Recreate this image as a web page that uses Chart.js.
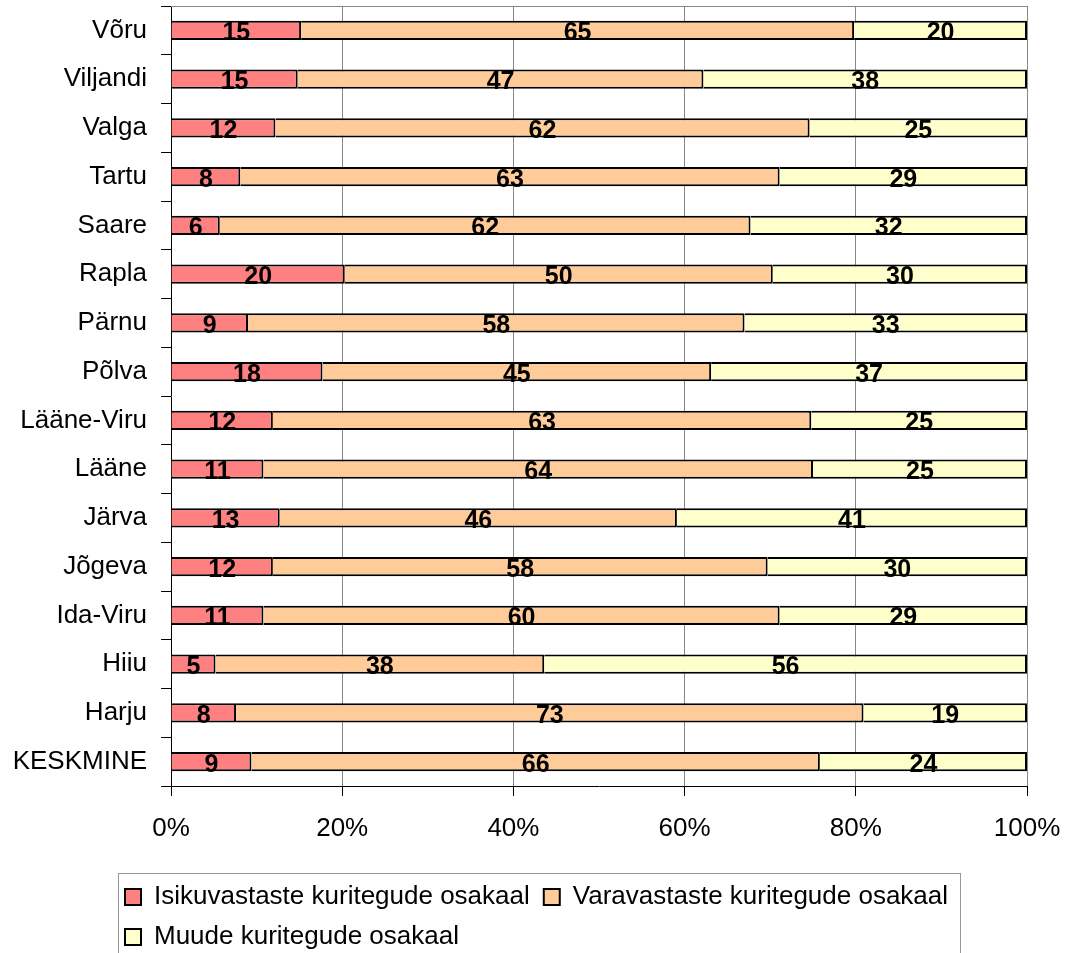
<!DOCTYPE html>
<html><head><meta charset="utf-8">
<script src="https://cdn.jsdelivr.net/npm/chart.js@4/dist/chart.umd.min.js"></script>
<style>html,body{margin:0;padding:0;background:#fff;}#wrap{width:1067px;height:953px;position:relative;}</style>
</head><body><div id="wrap"><canvas id="c" width="1067" height="953"></canvas></div>
<script>
const categories = ['Võru','Viljandi','Valga','Tartu','Saare','Rapla','Pärnu','Põlva','Lääne-Viru','Lääne','Järva','Jõgeva','Ida-Viru','Hiiu','Harju','KESKMINE'];
const isikuvastaste = [15.2,14.8,12.2,8.1,5.7,20.3,9.0,17.7,11.9,10.8,12.7,11.9,10.8,5.2,7.6,9.4];
const varavastaste = [64.6,47.4,62.4,63.0,62.0,50.0,58.0,45.4,62.9,64.2,46.4,57.8,60.3,38.4,73.3,66.4];
const muude = [20.2,37.8,25.4,28.9,32.3,29.7,33.0,36.9,25.2,25.0,40.9,30.3,28.9,56.4,19.1,24.2];
const seriesNames = ['Isikuvastaste kuritegude osakaal','Varavastaste kuritegude osakaal','Muude kuritegude osakaal'];
const xTicks = [0,20,40,60,80,100];

Chart.defaults.font.family = '"Liberation Sans", Arial, sans-serif';
Chart.defaults.color = '#000';

const layoutFix = {
  id: 'layoutFix',
  afterLayout(chart) {
    const lg = chart.legend;
    if (lg) { lg.left = 111; lg.top = 870; }
  }
};
const frame = {
  id: 'frame',
  beforeDatasetsDraw(chart) {
    const {ctx, chartArea: a} = chart;
    ctx.save();
    ctx.strokeStyle = '#888'; ctx.lineWidth = 1;
    ctx.beginPath(); ctx.moveTo(a.left, Math.round(a.top) + 0.5); ctx.lineTo(a.right, Math.round(a.top) + 0.5); ctx.stroke();
    ctx.restore();
  },
  afterDraw(chart) {
    const ctx = chart.ctx;
    ctx.save();
    ctx.strokeStyle = '#999'; ctx.lineWidth = 1;
    ctx.strokeRect(118.5, 873.5, 842, 200);
    ctx.restore();
  }
};
const valueLabels = {
  id: 'valueLabels',
  afterDatasetsDraw(chart) {
    const ctx = chart.ctx;
    ctx.save();
    ctx.font = 'bold 25px "Liberation Sans", Arial, sans-serif';
    ctx.fillStyle = '#000'; ctx.textAlign = 'center'; ctx.textBaseline = 'middle';
    chart.data.datasets.forEach((ds, di) => {
      const meta = chart.getDatasetMeta(di);
      meta.data.forEach((el, i) => {
        const p = el.getProps(['x', 'y', 'base'], true);
        ctx.fillText(String(Math.round(ds.data[i])), (p.x + p.base) / 2, p.y + 3);
      });
    });
    ctx.restore();
  }
};

new Chart(document.getElementById('c'), {
  type: 'bar',
  data: {
    labels: categories,
    datasets: [
      {label: seriesNames[0], data: isikuvastaste, backgroundColor: '#FF8080'},
      {label: seriesNames[1], data: varavastaste, backgroundColor: '#FFCC99'},
      {label: seriesNames[2], data: muude, backgroundColor: '#FFFFCC'}
    ].map(d => Object.assign(d, {borderColor: '#000', borderWidth: 2, barPercentage: 0.39, categoryPercentage: 1}))
  },
  options: {
    indexAxis: 'y',
    responsive: false,
    animation: false,
    devicePixelRatio: 1,
    layout: {padding: {top: 6, right: 40, left: 0, bottom: 0}},
    scales: {
      x: {
        type: 'linear', stacked: true, min: 0, max: 100,
        afterBuildTicks: s => { s.ticks = xTicks.map(v => ({value: v})); },
        ticks: {padding: 17, color: '#000', font: {size: 26}, callback: v => v + '%'},
        grid: {color: c => (c.tick && c.tick.value === 0) ? 'rgba(0,0,0,0)' : '#888', tickColor: '#000', tickLength: 10, lineWidth: 1},
        border: {color: '#000', width: 1},
        afterFit: s => { s.height = 77; s.paddingLeft = 0; s.paddingRight = 0; }
      },
      y: {
        type: 'category', stacked: true,
        ticks: {padding: 14, color: '#000', font: {size: 26}, autoSkip: false},
        grid: {drawOnChartArea: false, tickLength: 10, color: '#000', tickColor: '#000'},
        border: {color: '#000', width: 1},
        afterFit: s => { s.width = 171; s.paddingTop = 0; s.paddingBottom = 0; }
      }
    },
    plugins: {
      legend: {position: 'bottom', align: 'start',
        labels: {boxWidth: 16, boxHeight: 16, padding: 14, color: '#000', font: {size: 26}}},
      tooltip: {enabled: false}
    }
  },
  plugins: [layoutFix, frame, valueLabels]
});
</script></body></html>
